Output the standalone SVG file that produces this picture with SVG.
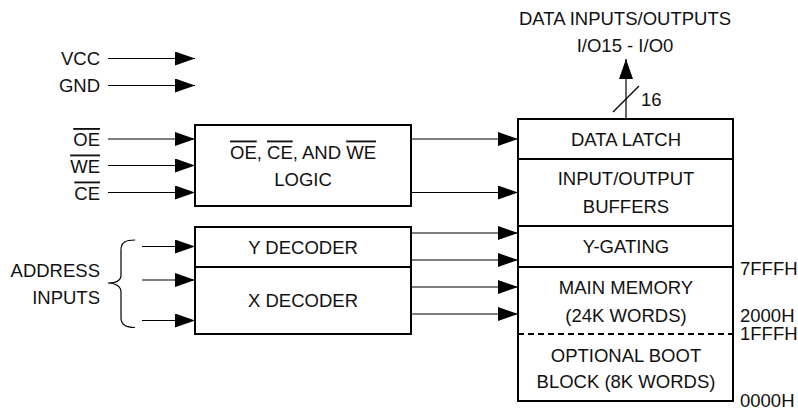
<svg xmlns="http://www.w3.org/2000/svg" width="798" height="409" viewBox="0 0 798 409">
<style>
text{font-family:"Liberation Sans",Arial,sans-serif;font-size:18.5px;fill:#111}
.c{text-anchor:middle}
.r{text-anchor:end}
.box{fill:#fff;stroke:#000;stroke-width:2}
.ln{stroke:#000;stroke-width:1.2;fill:none}
.ov{text-decoration:overline}
</style>
<defs>
<marker id="ah" viewBox="0 0 20 14" refX="20" refY="7" markerWidth="20" markerHeight="14" markerUnits="userSpaceOnUse" orient="auto">
<path d="M0,0 L20,7 L0,14 Z" fill="#000"/>
</marker>
</defs>
<rect width="798" height="409" fill="#fff"/>
<g id="io-label">
<text class="c" x="625" y="24.5">DATA INPUTS/OUTPUTS</text>
<text class="c" x="625" y="52">I/O15 - I/O0</text>
</g>
<g id="power-labels">
<text class="r" x="100" y="65">VCC</text>
<text class="r" x="100" y="92">GND</text>
</g>
<g id="control-labels">
<text class="r" x="100" y="146"><tspan class="ov">OE</tspan></text>
<text class="r" x="100" y="172.5"><tspan class="ov">WE</tspan></text>
<text class="r" x="100" y="199.5"><tspan class="ov">CE</tspan></text>
</g>
<g id="address-labels">
<text class="r" x="100" y="277">ADDRESS</text>
<text class="r" x="100" y="303.5">INPUTS</text>
<path class="ln" d="M135,240 C126,240 121,242 121,250 L121,275 C121,281 115,283 108,283 C115,283 121,286 121,292 L121,318 C121,325 126,327.5 135,327.5"/>
</g>
<g id="logic">
<rect class="box" x="195" y="125" width="216" height="81"/>
<text class="c" x="303" y="158.5"><tspan class="ov">OE</tspan>, <tspan class="ov">CE</tspan>, AND <tspan class="ov">WE</tspan></text>
<text class="c" x="303" y="185.5">LOGIC</text>
</g>
<g id="decoders">
<rect class="box" x="195" y="227" width="216" height="107"/>
<line class="box" x1="195" y1="267" x2="411" y2="267"/>
<text class="c" x="303" y="254">Y DECODER</text>
<text class="c" x="303" y="306.5">X DECODER</text>
</g>
<g id="memory">
<rect class="box" x="518" y="119" width="215" height="282"/>
<line class="box" x1="518" y1="159" x2="733" y2="159"/>
<line class="box" x1="518" y1="226" x2="733" y2="226"/>
<line class="box" x1="518" y1="267" x2="733" y2="267"/>
<line x1="518" y1="334" x2="733" y2="334" stroke="#000" stroke-width="2" stroke-dasharray="6,4"/>
<text class="c" x="626" y="146">DATA LATCH</text>
<text class="c" x="626" y="185">INPUT/OUTPUT</text>
<text class="c" x="626" y="212.5">BUFFERS</text>
<text class="c" x="626" y="252.5">Y-GATING</text>
<text class="c" x="626" y="294">MAIN MEMORY</text>
<text class="c" x="626" y="321.5">(24K WORDS)</text>
<text class="c" x="626" y="361.5">OPTIONAL BOOT</text>
<text class="c" x="626" y="388">BLOCK (8K WORDS)</text>
</g>
<g id="addresses">
<text x="740" y="275">7FFFH</text>
<text x="740" y="321.5">2000H</text>
<text x="740" y="340">1FFFH</text>
<text x="740" y="406.5">0000H</text>
</g>
<g id="connectors">
<line class="ln" x1="108" y1="58.5" x2="195" y2="58.5" marker-end="url(#ah)"/>
<line class="ln" x1="108" y1="85.5" x2="195" y2="85.5" marker-end="url(#ah)"/>
<line class="ln" x1="108" y1="139" x2="195" y2="139" marker-end="url(#ah)"/>
<line class="ln" x1="108" y1="165.5" x2="195" y2="165.5" marker-end="url(#ah)"/>
<line class="ln" x1="108" y1="192.5" x2="195" y2="192.5" marker-end="url(#ah)"/>
<line class="ln" x1="142" y1="246.5" x2="195" y2="246.5" marker-end="url(#ah)"/>
<line class="ln" x1="142" y1="280" x2="195" y2="280" marker-end="url(#ah)"/>
<line class="ln" x1="142" y1="320.5" x2="195" y2="320.5" marker-end="url(#ah)"/>
<line class="ln" x1="411" y1="139" x2="518" y2="139" marker-end="url(#ah)"/>
<line class="ln" x1="411" y1="192.5" x2="518" y2="192.5" marker-end="url(#ah)"/>
<line class="ln" x1="411" y1="233" x2="518" y2="233" marker-end="url(#ah)"/>
<line class="ln" x1="411" y1="260" x2="518" y2="260" marker-end="url(#ah)"/>
<line class="ln" x1="411" y1="287" x2="518" y2="287" marker-end="url(#ah)"/>
<line class="ln" x1="411" y1="314" x2="518" y2="314" marker-end="url(#ah)"/>
<line class="ln" x1="626" y1="119" x2="626" y2="59" stroke-width="1.5" marker-end="url(#ah)"/>
<line class="ln" x1="613" y1="112" x2="639" y2="86"/>
<text x="641" y="106">16</text>
</g>
</svg>
